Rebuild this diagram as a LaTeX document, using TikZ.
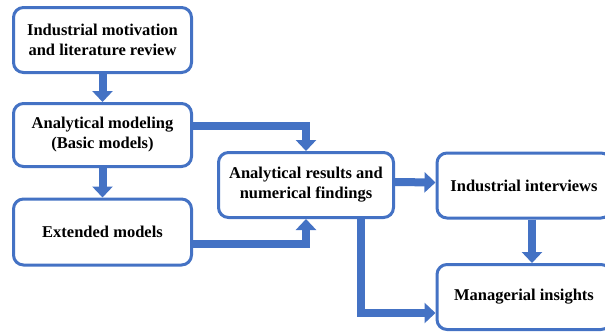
\documentclass[tikz,border=0pt]{standalone}
\usepackage{fontspec}
\setmainfont{Liberation Serif}
\usetikzlibrary{arrows.meta,calc}
\definecolor{obl}{HTML}{4472C4}
\begin{document}
\begin{tikzpicture}[x=1pt,y=-1pt,
  box/.style={draw=obl,line width=3pt,rounded corners=10pt,fill=white,
    minimum width=178pt,minimum height=65pt,align=center,inner sep=2pt,
    font=\fontsize{16.5pt}{20pt}\selectfont\bfseries},
  barrow/.style={draw=obl,line width=8pt,line join=miter,line cap=butt,
    -{Triangle[width=20pt,length=11pt]}}]
\useasboundingbox (0,0) rectangle (605,333);
\clip (0,0) rectangle (605,333);
\node[box] (b1) at (102.5,40) {Industrial motivation\\and literature review};
\node[box,minimum height=63pt] (b2) at (102.5,135) {Analytical modeling\\(Basic models)};
\node[box,minimum height=66pt] (b3) at (102.5,232) {Extended models};
\node[box,minimum width=175pt] (b4) at (306,185) {Analytical results and\\numerical findings};
\node[box,minimum width=174pt] (b5) at (524,185.5) {Industrial interviews};
\node[box,minimum width=174pt] (b6) at (524,297) {Managerial insights};
\draw[barrow] (b1.south) -- (b2.north);
\draw[barrow] (b2.south) -- (b3.north);
\draw[barrow] ([yshift=9pt]b2.east) -| (b4.north);
\draw[barrow] ([yshift=-12pt]b3.east) -| (b4.south);
\draw[barrow] ([yshift=3pt]b4.east) -- ([yshift=3pt]b5.west);
\draw[barrow] ([xshift=8pt]b5.south) -- ([xshift=8pt]b6.north);
\draw[barrow] ([xshift=55pt]b4.south) |- ([yshift=-16pt]b6.west);
\end{tikzpicture}
\end{document}
